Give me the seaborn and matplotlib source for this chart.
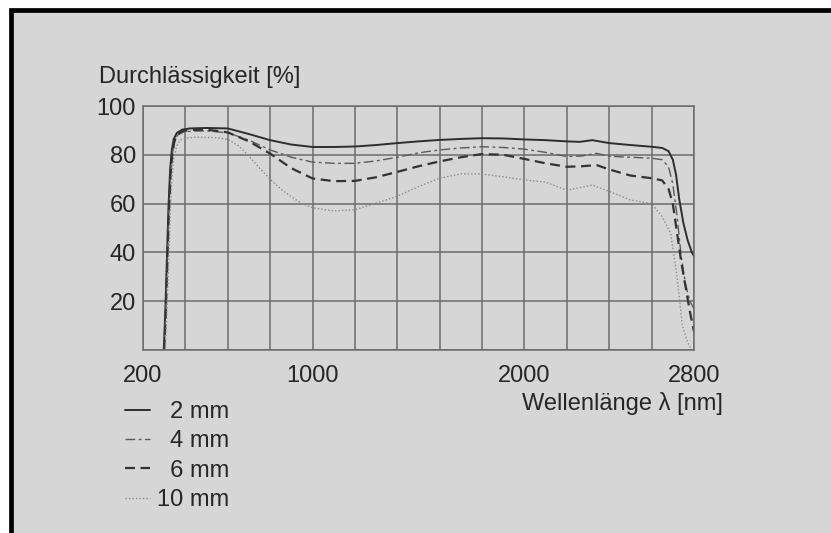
import numpy as np
import pandas as pd
import matplotlib
matplotlib.use("Agg")
import matplotlib.pyplot as plt
from matplotlib.patches import Rectangle
import seaborn as sns

# transmission curves (wavelength nm, transmission %)
wl_2mm = [298, 305, 312, 320, 328, 336, 345, 360, 385, 420, 500, 600, 700, 800, 900,
          1000, 1100, 1200, 1300, 1400, 1500, 1600, 1700, 1800, 1900, 2000, 2100, 2200,
          2260, 2320, 2400, 2500, 2600, 2650, 2680, 2700, 2715, 2730, 2750, 2770, 2790, 2800]
tr_2mm = [0, 15, 35, 58, 74, 82, 86.5, 89, 90.3, 90.8, 91, 90.8, 88.5, 86, 84.2,
          83.2, 83.2, 83.4, 84, 84.8, 85.5, 86.1, 86.5, 86.8, 86.7, 86.3, 86, 85.5,
          85.3, 86, 84.8, 84, 83.3, 82.8, 81.5, 78, 72, 62, 52, 45, 40, 38.5]

wl_4mm = [300, 307, 314, 322, 330, 338, 348, 362, 390, 430, 500, 600, 700, 800, 900,
          1000, 1100, 1200, 1300, 1400, 1500, 1600, 1700, 1800, 1900, 2000, 2100, 2200,
          2270, 2340, 2400, 2500, 2600, 2650, 2680, 2700, 2720, 2740, 2760, 2780, 2800]
tr_4mm = [0, 15, 35, 57, 72, 80, 85, 88, 89.3, 89.7, 89.8, 89, 86, 82, 79,
          77, 76.5, 76.5, 77.5, 79, 80.8, 82, 82.8, 83.3, 83, 82.3, 81, 79.3,
          79.5, 80.6, 79.4, 79, 78.6, 78, 75, 68, 55, 38, 27, 20, 17]

wl_6mm = [300, 307, 314, 322, 330, 338, 348, 362, 390, 430, 500, 600, 700, 800, 900,
          1000, 1100, 1200, 1300, 1400, 1500, 1600, 1700, 1800, 1900, 2000, 2100, 2200,
          2270, 2340, 2400, 2500, 2600, 2650, 2680, 2700, 2720, 2740, 2760, 2780, 2800]
tr_6mm = [0, 14, 34, 56, 72, 80, 85.5, 88.5, 89.8, 90.2, 90.3, 89.2, 85.5, 80.5, 74.5,
          70.3, 69.2, 69.3, 70.8, 73, 75.3, 77.3, 79, 80.3, 80, 78.3, 76.5, 75.1,
          75.3, 75.8, 74, 71.5, 70.4, 69.5, 66, 60, 48, 36, 26, 16, 7.5]

wl_10mm = [305, 312, 320, 328, 336, 345, 358, 375, 400, 450, 550, 600, 650, 700, 750,
           800, 850, 900, 950, 1000, 1100, 1200, 1300, 1400, 1500, 1600, 1700, 1800,
           1900, 2000, 2100, 2200, 2260, 2320, 2400, 2500, 2600, 2650, 2690, 2720,
           2745, 2770, 2790]
tr_10mm = [0, 14, 33, 55, 70, 78, 83.5, 86, 86.8, 87.2, 87, 86.3, 83.8, 79.5, 74.5,
           70, 66, 62.8, 60, 58.3, 57, 57.5, 60.2, 63, 67, 70.4, 72.2, 72.1,
           71, 69.7, 68.8, 65.5, 66.5, 67.6, 65, 61.5, 60, 54.6, 47.8, 30,
           10, 3, 0]

series_labels = ["\u20072 mm", "\u20074 mm", "\u20076 mm", "10 mm"]
x_ticks = list(range(200, 2801, 200))
x_tick_labels = ["200", "", "", "", "1000", "", "", "", "", "2000", "", "", "", "2800"]
y_ticks = [0, 20, 40, 60, 80, 100]
y_tick_labels = ["", "20", "40", "60", "80", "100"]

BG = "#d6d6d6"
TXT = "#262626"
GRID = "#6c6c6c"

sns.set_style("white", rc={"axes.facecolor": BG, "figure.facecolor": "white"})
plt.rcParams["font.family"] = ["Liberation Sans", "DejaVu Sans"]

df = pd.concat([
    pd.DataFrame({"wl": wl_2mm, "tr": tr_2mm, "dicke": series_labels[0]}),
    pd.DataFrame({"wl": wl_4mm, "tr": tr_4mm, "dicke": series_labels[1]}),
    pd.DataFrame({"wl": wl_6mm, "tr": tr_6mm, "dicke": series_labels[2]}),
    pd.DataFrame({"wl": wl_10mm, "tr": tr_10mm, "dicke": series_labels[3]}),
])

styles = {
    series_labels[0]: dict(color="#2e2e2e", linewidth=1.4, linestyle="-"),
    series_labels[1]: dict(color="#5a5a5a", linewidth=1.0, linestyle=(0, (7, 2.5, 2, 2.5))),
    series_labels[2]: dict(color="#333333", linewidth=1.6, linestyle=(0, (4.5, 2.5))),
    series_labels[3]: dict(color="#8a8a8a", linewidth=1.0, linestyle=(0, (1, 1.5))),
}

fig = plt.figure(figsize=(8.31, 5.33), dpi=100)
fig.add_artist(Rectangle((10.5 / 831, -0.05), 1.2, (533 - 10.3) / 533 + 0.05,
                         transform=fig.transFigure, facecolor=BG,
                         edgecolor="black", linewidth=3.4, zorder=-10))

ax = fig.add_axes([143 / 831, 1 - 350 / 533, 551 / 831, 244 / 533])
ax.set_facecolor(BG)

handles = []
for lab in series_labels:
    sub = df[df["dicke"] == lab]
    sns.lineplot(data=sub, x="wl", y="tr", estimator=None, sort=False, ax=ax,
                 **styles[lab])
    handles.append(ax.lines[-1])

ax.set_xlim(200, 2800)
ax.set_ylim(0, 100)
ax.set_xticks(x_ticks, x_tick_labels)
ax.set_yticks(y_ticks, y_tick_labels)
ax.tick_params(axis="both", length=0, labelsize=17, colors=TXT)
ax.tick_params(axis="x", pad=11)
ax.tick_params(axis="y", pad=5)
ax.grid(True, color=GRID, linewidth=1.1)
ax.set_axisbelow(True)
for sp in ax.spines.values():
    sp.set_color(GRID)
    sp.set_linewidth(1.1)
ax.set_xlabel("")
ax.set_ylabel("")

fig.text(99 / 831, 1 - 83 / 533, "Durchlässigkeit [%]", ha="left", va="baseline",
         fontsize=17, color=TXT)
fig.text(723 / 831, 1 - 410 / 533, "Wellenlänge λ [nm]", ha="right", va="baseline",
         fontsize=17, color=TXT)

fig.legend(handles, series_labels, loc="upper left",
           bbox_to_anchor=(125 / 831, 1 - 401 / 533), frameon=False,
           fontsize=17, handlelength=1.05, handletextpad=0.3, labelspacing=0.31,
           borderpad=0, borderaxespad=0, labelcolor=TXT)

fig.savefig("out.png", dpi=100, facecolor="white")
